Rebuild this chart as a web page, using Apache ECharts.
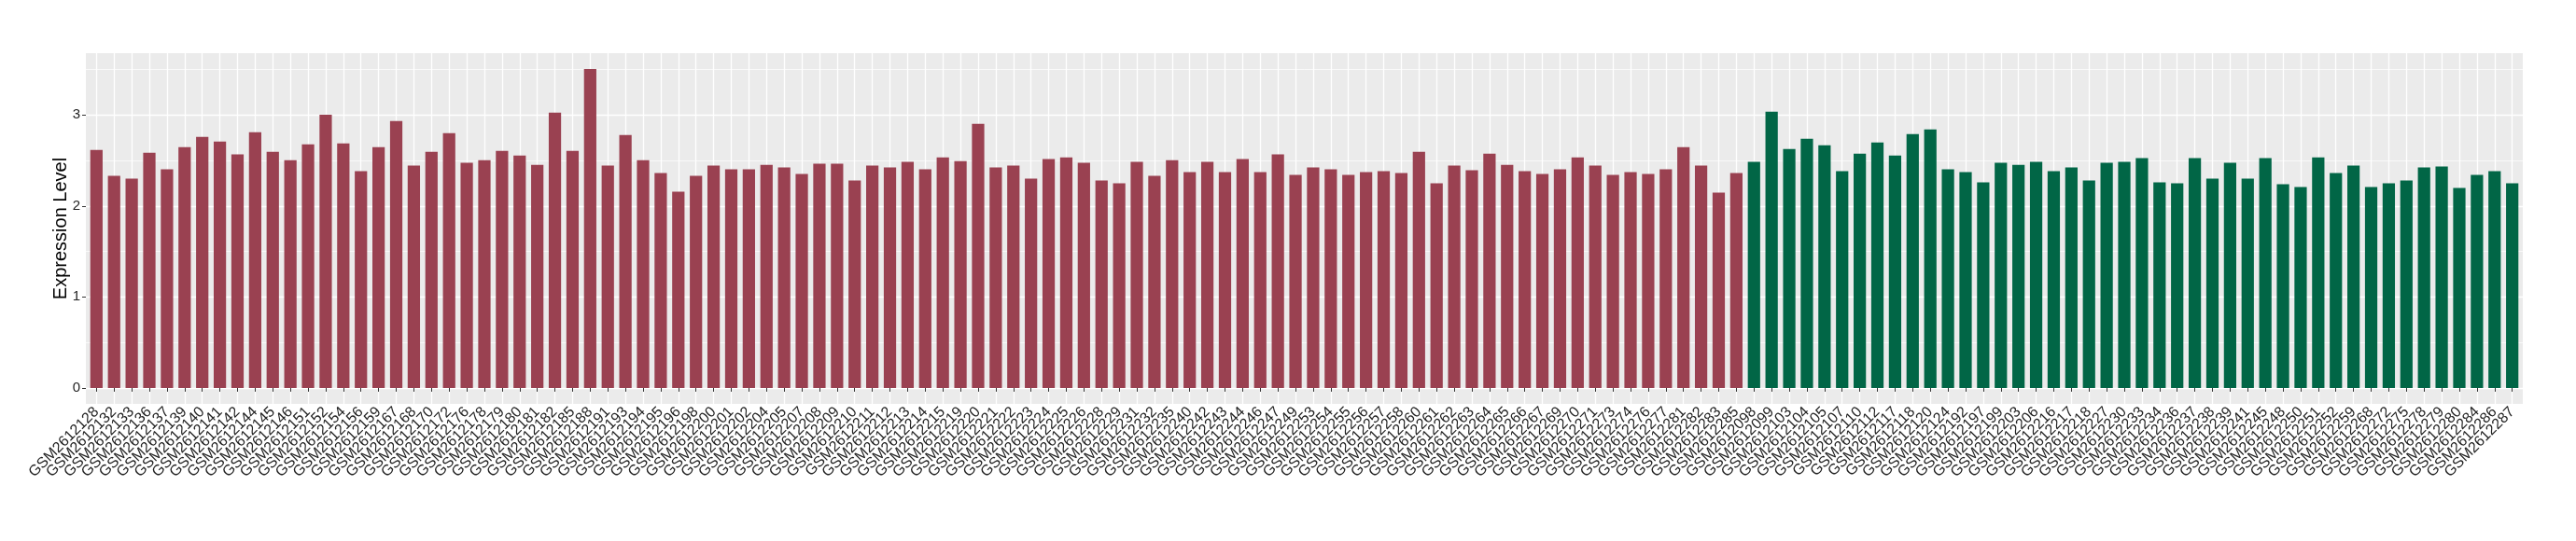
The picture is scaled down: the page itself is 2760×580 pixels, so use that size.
<!DOCTYPE html>
<html><head><meta charset="utf-8">
<script src="https://cdn.jsdelivr.net/npm/echarts@6/dist/echarts.min.js"></script>
<style>html,body{margin:0;padding:0;background:#fff}#c{width:2760px;height:580px}</style>
</head><body><div id="c"></div>
<script>
const groupA = ["GSM2612128","GSM2612132","GSM2612133","GSM2612136","GSM2612137","GSM2612139","GSM2612140","GSM2612141","GSM2612142","GSM2612144","GSM2612145","GSM2612146","GSM2612151","GSM2612152","GSM2612154","GSM2612156","GSM2612159","GSM2612167","GSM2612168",
"GSM2612170","GSM2612172","GSM2612176","GSM2612178","GSM2612179","GSM2612180","GSM2612181","GSM2612182","GSM2612185","GSM2612188","GSM2612191","GSM2612193","GSM2612194","GSM2612195","GSM2612196","GSM2612198","GSM2612200","GSM2612201","GSM2612202","GSM2612204","GSM2612205",
"GSM2612207","GSM2612208","GSM2612209","GSM2612210","GSM2612211","GSM2612212","GSM2612213","GSM2612214","GSM2612215","GSM2612219","GSM2612220","GSM2612221","GSM2612222","GSM2612223","GSM2612224","GSM2612225","GSM2612226","GSM2612228","GSM2612229","GSM2612231","GSM2612232","GSM2612235",
"GSM2612240","GSM2612242","GSM2612243","GSM2612244","GSM2612246","GSM2612247","GSM2612249","GSM2612253","GSM2612254","GSM2612255","GSM2612256","GSM2612257","GSM2612258","GSM2612260","GSM2612261","GSM2612262","GSM2612263","GSM2612264","GSM2612265","GSM2612266","GSM2612267",
"GSM2612269","GSM2612270","GSM2612271","GSM2612273","GSM2612274","GSM2612276","GSM2612277","GSM2612281","GSM2612282","GSM2612283","GSM2612285"];
const valuesA = [2.616,2.330,2.299,2.585,2.401,2.646,2.759,2.707,2.565,2.810,2.595,2.503,2.677,3.003,2.687,2.381,2.646,2.932,2.442,2.595,2.799,2.473,2.503,2.605,2.554,2.452,3.024,2.605,3.503,2.442,2.779,2.503,2.361,2.156,2.330,
2.442,2.401,2.401,2.452,2.422,2.350,2.463,2.463,2.279,2.442,2.422,2.483,2.401,2.534,2.493,2.901,2.422,2.442,2.299,2.514,2.534,2.473,2.279,2.248,2.483,2.330,2.503,2.371,2.483,2.371,2.514,2.371,2.565,2.340,
2.422,2.401,2.340,2.371,2.381,2.361,2.595,2.248,2.442,2.391,2.575,2.452,2.381,2.350,2.401,2.534,2.442,2.340,2.371,2.350,2.401,2.646,2.442,2.146,2.361];
const groupB = ["GSM2612098","GSM2612099","GSM2612103","GSM2612104","GSM2612105","GSM2612107","GSM2612110","GSM2612112","GSM2612117","GSM2612118",
"GSM2612120","GSM2612124","GSM2612192","GSM2612197","GSM2612199","GSM2612203","GSM2612206","GSM2612216","GSM2612217","GSM2612218","GSM2612227","GSM2612230","GSM2612233","GSM2612234","GSM2612236","GSM2612237","GSM2612238","GSM2612239","GSM2612241","GSM2612245","GSM2612248",
"GSM2612250","GSM2612251","GSM2612252","GSM2612259","GSM2612268","GSM2612272","GSM2612275","GSM2612278","GSM2612279","GSM2612280","GSM2612284","GSM2612286","GSM2612287"];
const valuesB = [2.483,3.034,2.626,2.738,2.667,2.381,2.575,2.697,2.554,2.789,
2.840,2.401,2.371,2.259,2.473,2.452,2.483,2.381,2.422,2.279,2.473,2.483,2.524,2.259,2.248,2.524,2.299,2.473,2.299,2.524,2.238,2.207,2.534,2.361,2.442,2.207,2.248,2.279,2.422,2.432,2.197,2.340,2.381,2.248];
const yTicks = [0, 1, 2, 3];
const yMinorTicks = [0.5, 1.5, 2.5, 3.5];
const yTitle = "Expression Level";
const colorA = "#9A4151";
const colorB = "#016646";

const cats = groupA.concat(groupB);
const data = valuesA.map(v => ({value: v, itemStyle: {color: colorA}}))
  .concat(valuesB.map(v => ({value: v, itemStyle: {color: colorB}})));
const n = cats.length;
const dmax = Math.max(...valuesA, ...valuesB);
const yMin = -0.05 * dmax, yMax = 1.05 * dmax;

const W = 2760, pL = 92, pR = 57, pT = 57, pB = 147;
const band = (W - pL - pR) / (n + 0.2);
const inset = 0.6 * band;

const chart = echarts.init(document.getElementById('c'), null, {renderer: 'canvas'});
const FONT = "'Liberation Sans', Arial, Helvetica, sans-serif";
chart.setOption({
  animation: false,
  textStyle: {fontFamily: FONT},
  grid: [
    {left: pL, right: pR, top: pT, bottom: pB, show: true, backgroundColor: '#EBEBEB', borderWidth: 0, containLabel: false},
    {left: pL + inset, right: pR + inset, top: pT, bottom: pB, show: false, containLabel: false}
  ],
  xAxis: [
    {gridIndex: 0, type: 'value', min: 0, max: 1, show: false},
    {gridIndex: 1, type: 'category', data: cats, boundaryGap: false,
     axisLine: {show: false},
     axisTick: {show: true, interval: 0, length: 4, lineStyle: {color: '#333333', width: 1}},
     axisLabel: {interval: 0, rotate: 45, margin: 6, fontSize: 16, color: '#222222', fontFamily: FONT},
     splitLine: {show: true, interval: 0, lineStyle: {color: '#FFFFFF', width: 1.3}}}
  ],
  yAxis: [
    {gridIndex: 0, type: 'value', min: yMin, max: yMax, position: 'left',
     name: yTitle, nameLocation: 'middle', nameRotate: 90, nameGap: 17, nameMoveOverlap: false,
     nameTextStyle: {fontSize: 20, color: '#000000', fontFamily: FONT},
     axisLine: {show: false},
     axisTick: {show: true, length: 4, customValues: yTicks, lineStyle: {color: '#333333', width: 1}},
     axisLabel: {customValues: yTicks, margin: 6, fontSize: 15, color: '#222222', fontFamily: FONT, formatter: v => String(v)},
     splitLine: {show: true, lineStyle: {color: '#FFFFFF', width: 1.3}}},
    {gridIndex: 0, type: 'value', min: yMin, max: yMax, position: 'right',
     axisLine: {show: false}, axisLabel: {show: false},
     axisTick: {show: false, customValues: yMinorTicks},
     splitLine: {show: true, lineStyle: {color: '#FFFFFF', width: 0.7}}},
    {gridIndex: 1, type: 'value', min: yMin, max: yMax, show: false}
  ],
  series: [{
    type: 'bar', xAxisIndex: 1, yAxisIndex: 2, data: data,
    barWidth: '70%', clip: false
  }]
});
</script></body></html>
